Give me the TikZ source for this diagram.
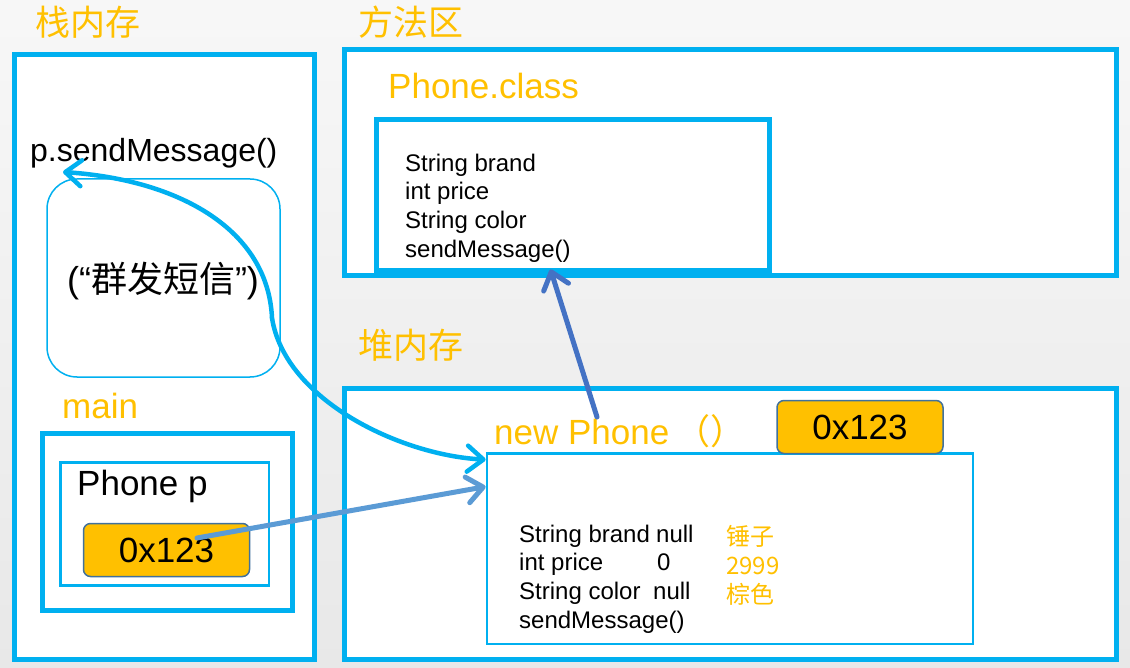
\documentclass[tikz,border=0pt]{standalone}
\usepackage{fontspec}
\setmainfont{Liberation Sans}
\newfontfamily\cjk{Noto Sans CJK SC}
\usetikzlibrary{arrows.meta,positioning}
\definecolor{memblue}{HTML}{00B0F0}
\definecolor{labelorange}{HTML}{FFC000}
\definecolor{addredge}{HTML}{41719C}
\definecolor{refblue}{HTML}{5B9BD5}
\definecolor{callblue}{HTML}{4472C4}
\tikzset{
    mem-box/.style = {draw=memblue, fill=white, line width=5pt, rectangle, inner sep=0pt},
    frame-box/.style = {draw=memblue, fill=white, line width=2.7pt, rectangle, inner sep=0pt},
    addr-box/.style = {draw=addredge, fill=labelorange, line width=1.5pt, rounded corners=7pt, minimum width=166pt, minimum height=53pt, inner sep=0pt, font=\fontsize{35}{42}\selectfont},
    area-title/.style = {text=labelorange, inner sep=0pt, font=\cjk\fontsize{35}{42}\selectfont},
    big-label/.style = {inner sep=0pt, font=\fontsize{35}{42}\selectfont},
    field-list/.style = {inner sep=0pt, align=left, font=\fontsize{24}{28.7}\selectfont},
    ref-arrow/.style = {line cap=round, -{Straight Barb[length=16pt,width=26pt,round]}},
}

\begin{document}
\begin{tikzpicture}[x=1pt, y=-1pt]
\fill[top color=white!97!black, bottom color=white!91!black] (0,0) rectangle (1130,668);

% stack
\node[area-title, anchor=west] (stack-title) at (35,22) {栈内存};
\node[mem-box, minimum width=299.5pt, minimum height=604.5pt] (stack) at (164.25,357.25) {};
\node[big-label, anchor=base west, font=\fontsize{32}{38}\selectfont] (call) at (30,162) {p.sendMessage()};
\node[draw=memblue, fill=white, line width=1.5pt, rounded corners=30pt, minimum width=233pt, minimum height=198pt] (frame) at (163.5,278) {};
\node[big-label, font=\fontsize{36}{42}\selectfont] (msg) at (163,281) {(“{\cjk 群发短信}”)};
\node[big-label, anchor=base west, text=labelorange] (main-title) at (62,418) {main};
\node[mem-box, minimum width=249.8pt, minimum height=177pt] (main) at (167.4,522) {};
\node[frame-box, minimum width=208.3pt, minimum height=123pt] (var) at (164.85,523.8) {};
\node[big-label, anchor=base west] (var-name) at (77,495) {Phone p};
\node[addr-box] (addr-p) at (166.5,550) {0x123};

% method area
\node[area-title, anchor=west] (method-title) at (358,22) {方法区};
\node[mem-box, minimum width=771.5pt, minimum height=226pt] (method) at (730.25,163) {};
\node[big-label, anchor=base west, text=labelorange] (class-name) at (388,99) {Phone.class};
\node[mem-box, minimum width=393pt, minimum height=151.5pt] (class) at (573,195.25) {};
\node[field-list, anchor=north west] (class-fields) at (405,153.5) {String brand\\int price\\String color\\sendMessage()};

% heap
\node[area-title, anchor=west] (heap-title) at (358,345) {堆内存};
\node[mem-box, minimum width=771.5pt, minimum height=271pt] (heap) at (730.25,524) {};
\node[big-label, anchor=base west, text=labelorange] (new-label) at (494,444) {new Phone\hspace{6pt}{\cjk （）}};
\node[frame-box, minimum width=486pt, minimum height=190.5pt] (object) at (730,548.75) {};
\node[addr-box] (addr-heap) at (860,427) {0x123};
\node[field-list, anchor=north west] (object-fields) at (519,524.5) {\makebox[137pt][l]{String brand}null\\\makebox[138pt][l]{int price}0\\\makebox[134pt][l]{String color}null\\sendMessage()};
\node[field-list, anchor=north west, text=labelorange, font=\cjk\fontsize{24}{29}\selectfont] (object-values) at (726,525) {锤子\\2999\\棕色};

% references
\coordinate (bend) at (272,318);
\coordinate (call-tip) at ([xshift=33pt,yshift=-10pt]call.base west);
\draw[memblue, line width=4.5pt, ref-arrow] (bend) .. controls (268,230) and (180,180) .. (call-tip);
\draw[memblue, line width=4.5pt, ref-arrow] (bend) .. controls (285,400) and (400,455) .. ([yshift=-7.5pt]object.north west);
\draw[refblue, line width=5pt, ref-arrow] ([xshift=30.5pt,yshift=12pt]addr-p.center) -- ([yshift=-34.5pt]object.north west);
\draw[callblue, line width=5pt, ref-arrow] ([xshift=103pt,yshift=27pt]new-label.base west) -- ([xshift=176.5pt,yshift=4pt]class.south west);
\end{tikzpicture}
\end{document}
